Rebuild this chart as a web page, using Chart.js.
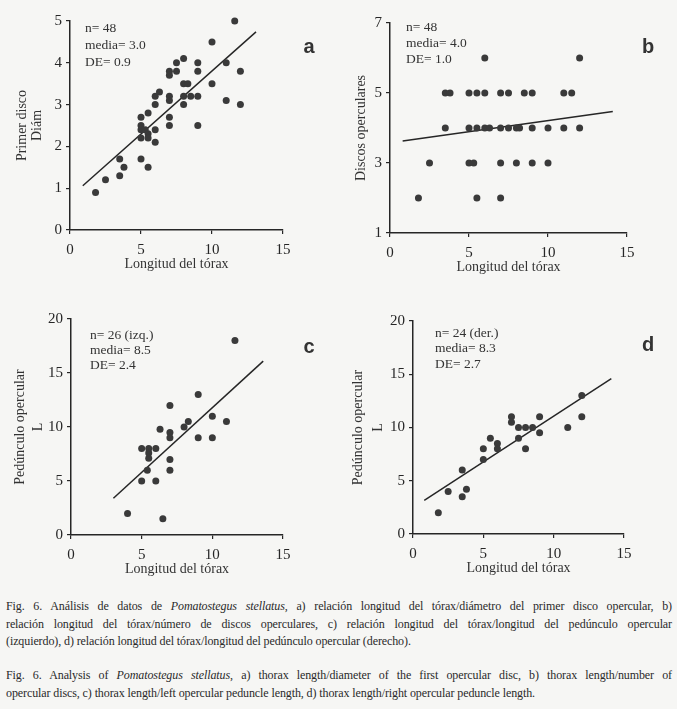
<!DOCTYPE html>
<html>
<head>
<meta charset="utf-8">
<script src="https://cdn.jsdelivr.net/npm/chart.js@4.4.1/dist/chart.umd.min.js"></script>
<style>
  html, body { margin: 0; padding: 0; background: #f6f6f4; }
  body { width: 677px; height: 709px; position: relative; overflow: hidden; font-family: 'Liberation Serif', serif; color: #2a2a2a; }
  canvas { position: absolute; }
  .cap { position: absolute; left: 6px; width: 666px; font-size: 12px; line-height: 17.5px; letter-spacing: -0.1px; }
  .cap div { white-space: nowrap; }
  .cap .j { text-align: justify; text-align-last: justify; white-space: normal; }
</style>
</head>
<body>
<canvas id="pa" width="330" height="290" style="left:0;top:0"></canvas>
<canvas id="pb" width="347" height="290" style="left:330px;top:0"></canvas>
<canvas id="pc" width="330" height="290" style="left:0;top:290px"></canvas>
<canvas id="pd" width="347" height="290" style="left:330px;top:290px"></canvas>

<div class="cap" style="top:598px">
  <div class="j">Fig. 6. Análisis de datos de <i>Pomatostegus stellatus</i>, a) relación longitud del tórax/diámetro del primer disco opercular, b)</div>
  <div class="j">relación longitud del tórax/número de discos operculares, c) relación longitud del tórax/longitud del pedúnculo opercular</div>
  <div>(izquierdo), d) relación longitud del tórax/longitud del pedúnculo opercular (derecho).</div>
</div>
<div class="cap" style="top:667px">
  <div class="j">Fig. 6. Analysis of <i>Pomatostegus stellatus</i>, a) thorax length/diameter of the first opercular disc, b) thorax length/number of</div>
  <div>opercular discs, c) thorax length/left opercular peduncle length, d) thorax length/right opercular peduncle length.</div>
</div>

<script>
// a) thorax length vs first disc diameter
const aThorax = [1.8, 2.5, 3.5, 3.5, 3.8, 5, 5, 5, 5, 5, 5.3, 5.5, 5.5, 5.5, 5.5, 6, 6, 6, 6, 6.3,
  7, 7, 7, 7, 7, 7, 7.5, 7.5, 8, 8, 8, 8, 8.3, 8.5, 9, 9, 9, 9, 10, 10, 11, 11, 11.6, 12, 12];
const aDisc = [0.9, 1.2, 1.7, 1.3, 1.5, 2.7, 2.5, 2.4, 2.2, 1.7, 2.4, 2.8, 2.3, 2.2, 1.5, 3.2, 3.0, 2.4, 2.1, 3.3,
  3.8, 3.7, 3.2, 3.1, 2.7, 2.5, 4.0, 3.8, 4.1, 3.5, 3.2, 3.0, 3.5, 3.2, 4.0, 3.8, 3.2, 2.5, 4.5, 3.5, 4.0, 3.1, 5.0, 3.8, 3.0];
const aFitX = [0.9, 13.1];
const aFitY = [1.06, 4.74];
const aStats = ['n= 48', 'media= 3.0', 'DE= 0.9'];

// b) thorax length vs number of opercular discs
const bThorax = [1.8, 2.5, 3.5, 3.8, 3.5, 5, 5.5, 6, 6, 5, 5.5, 6, 6.3, 5, 5.3, 5.5,
  7, 7.5, 8.5, 9, 7, 7.5, 8, 8.2, 9, 10, 11, 12, 7, 8, 9, 10, 7, 11, 11.5, 12];
const bDiscs = [2, 3, 5, 5, 4, 5, 5, 5, 6, 4, 4, 4, 4, 3, 3, 2,
  5, 5, 5, 5, 4, 4, 4, 4, 4, 4, 4, 4, 3, 3, 3, 3, 2, 5, 5, 6];
const bFitX = [0.8, 14.1];
const bFitY = [3.63, 4.47];
const bStats = ['n= 48', 'media= 4.0', 'DE= 1.0'];

// c) thorax length vs left peduncle length
const cThorax = [4, 5, 5, 5.4, 5.5, 5.5, 5.5, 6, 6, 6.3, 6.5, 7, 7, 7, 7, 7, 8, 8.3, 9, 9, 10, 10, 11, 11.6];
const cPeduncle = [2, 5, 8, 6, 8, 7.6, 7.1, 8, 5, 9.8, 1.5, 12, 9.5, 9, 7, 6, 10, 10.5, 13, 9, 11, 9, 10.5, 18];
const cFitX = [3.0, 13.6];
const cFitY = [3.4, 16.1];
const cStats = ['n= 26 (izq.)', 'media= 8.5', 'DE= 2.4'];

// d) thorax length vs right peduncle length
const dThorax = [1.8, 2.5, 3.5, 3.5, 3.8, 5, 5, 5.5, 6, 6, 7, 7, 7.5, 7.5, 8, 8, 8.5, 9, 9, 11, 12, 12];
const dPeduncle = [2, 4, 6, 3.5, 4.2, 8, 7, 9, 8.5, 8, 11, 10.5, 10, 9, 10, 8, 10, 11, 9.5, 10, 13, 11];
const dFitX = [0.8, 14.1];
const dFitY = [3.16, 14.6];
const dStats = ['n= 24 (der.)', 'media= 8.3', 'DE= 2.7'];

const INK = '#262626';
const serif = "'Liberation Serif', 'Times New Roman', serif";

const pairs = (xs, ys) => xs.map((x, i) => ({ x, y: ys[i] }));

// writes the n / media / DE block and the panel letter
const labelPlugin = {
  id: 'panelLabels',
  afterDraw(chart) {
    const o = chart.options.plugins.panelLabels;
    const { ctx, chartArea } = chart;
    ctx.save();
    ctx.fillStyle = '#333';
    ctx.font = '13.5px ' + serif;
    ctx.textBaseline = 'middle';
    o.lines.forEach((t, i) => ctx.fillText(t, chartArea.left + o.dx, chartArea.top + o.dy + i * o.gap));
    ctx.font = "bold 20px 'Liberation Sans', Arial, sans-serif";
    ctx.textAlign = 'center';
    ctx.fillText(o.letter, o.lx, o.ly);
    ctx.restore();
  }
};

function drawPanel(id, p) {
  new Chart(document.getElementById(id), {
    type: 'scatter',
    data: {
      datasets: [
        { data: pairs(p.x, p.y), backgroundColor: '#3a3a3a', borderWidth: 0, pointRadius: 3.5, clip: false },
        { type: 'line', data: pairs(p.fitX, p.fitY), borderColor: INK, borderWidth: 1.5, pointRadius: 0, fill: false, clip: false }
      ]
    },
    options: {
      responsive: false, animation: false, events: [],
      layout: { padding: { left: 0, top: p.top, right: p.right, bottom: 0 } },
      plugins: {
        legend: { display: false }, tooltip: { enabled: false },
        panelLabels: { lines: p.stats, dx: p.sx, dy: p.sy, gap: p.sgap, letter: p.letter, lx: p.lx, ly: p.ly }
      },
      scales: {
        x: {
          type: 'linear', min: 0, max: 15,
          ticks: { stepSize: 5, color: INK, padding: 7, maxRotation: 0, font: { family: serif, size: 15 } },
          grid: { drawOnChartArea: false, tickLength: 4, color: INK, lineWidth: 1.2 },
          border: { color: INK, width: 1.5 },
          title: { display: true, text: 'Longitud del tórax', color: '#333', font: { family: serif, size: 14 }, padding: { bottom: p.xtPad, top: 0 } },
          afterFit: s => { s.height = p.xh; }
        },
        y: {
          type: 'linear', min: p.ymin, max: p.ymax,
          ticks: { stepSize: p.ystep, color: INK, padding: 4, font: { family: serif, size: 15 } },
          grid: { drawOnChartArea: false, tickLength: 4, color: INK, lineWidth: 1.2 },
          border: { color: INK, width: 1.5 },
          title: { display: true, text: p.ytitle, color: '#333', font: { family: serif, size: 14, lineHeight: p.ylh }, padding: { top: p.ytPad, bottom: 0 } },
          afterFit: s => { s.width = p.yw; }
        }
      }
    },
    plugins: [labelPlugin]
  });
}

drawPanel('pa', {
  x: aThorax, y: aDisc, fitX: aFitX, fitY: aFitY, stats: aStats,
  ymin: 0, ymax: 5, ystep: 1, ytitle: ['Primer disco', 'Diám'], ylh: 1.05, ytPad: 15,
  yw: 70, xh: 60, top: 21, right: 47, xtPad: 17,
  sx: 15, sy: 7, sgap: 17, letter: 'a', lx: 309, ly: 47
});
drawPanel('pb', {
  x: bThorax, y: bDiscs, fitX: bFitX, fitY: bFitY, stats: bStats,
  ymin: 1, ymax: 7, ystep: 2, ytitle: 'Discos operculares', ylh: 1.2, ytPad: 23,
  yw: 60, xh: 57, top: 23, right: 50, xtPad: 14,
  sx: 16, sy: 4, sgap: 16, letter: 'b', lx: 318, ly: 47
});
drawPanel('pc', {
  x: cThorax, y: cPeduncle, fitX: cFitX, fitY: cFitY, stats: cStats,
  ymin: 0, ymax: 20, ystep: 5, ytitle: ['Pedúnculo opercular', 'L'], ylh: 1.25, ytPad: 12,
  yw: 71, xh: 45, top: 29, right: 47, xtPad: 2.5,
  sx: 19, sy: 16, sgap: 15, letter: 'c', lx: 309, ly: 57
});
drawPanel('pd', {
  x: dThorax, y: dPeduncle, fitX: dFitX, fitY: dFitY, stats: dStats,
  ymin: 0, ymax: 20, ystep: 5, ytitle: ['Pedúnculo opercular', 'L'], ylh: 1.45, ytPad: 18,
  yw: 83, xh: 46, top: 31, right: 53, xtPad: 3,
  sx: 22, sy: 12, sgap: 15.5, letter: 'd', lx: 318, ly: 55
});
</script>
</body>
</html>
